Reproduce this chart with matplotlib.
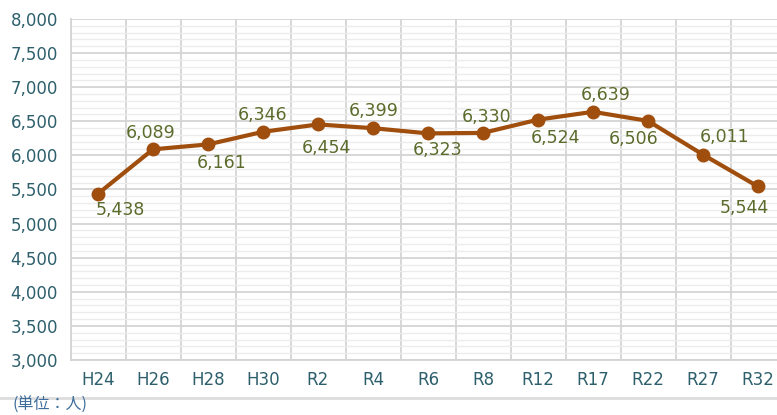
import numpy as np
import matplotlib.pyplot as plt
from matplotlib.lines import Line2D

plt.rcParams['font.family'] = ['DejaVu Sans', 'Noto Sans CJK JP']

# data
years = ['H24', 'H26', 'H28', 'H30', 'R2', 'R4', 'R6', 'R8', 'R12', 'R17', 'R22', 'R27', 'R32']
people = [5438, 6089, 6161, 6346, 6454, 6399, 6323, 6330, 6524, 6639, 6506, 6011, 5544]

# label offsets from each point, in pixels (dx, dy)
label_dx = [22, -2, 14, 0, 8, 1, 10, 4, 18, 13, -14, 22, -14]
label_dy = [-16, 16, -19, 17, -24, 17, -17, 16, -18, 17, -18, 18, -22]

W, H = 777, 415
fig = plt.figure(figsize=(W / 100, H / 100), dpi=100)
ax = fig.add_axes([70.5 / W, 55 / H, 715 / W, 341 / H])

x = np.arange(len(years))
ax.set_xlim(-0.5, len(years) - 0.5)
ax.set_ylim(3000, 8000)

# grid: minor every 100, major every 500, vertical at category boundaries
ax.set_yticks(np.arange(3000, 8001, 500))
ax.set_yticks(np.arange(3000, 8001, 100), minor=True)
ax.yaxis.grid(True, which='minor', color='#ececec', lw=1)
ax.yaxis.grid(True, which='major', color='#d4d4d4', lw=1.3)
for b in np.arange(-0.5, len(years), 1):
    ax.axvline(b, color='#d4d4d4', lw=1.3, zorder=0.5)
ax.set_axisbelow(True)

ax.plot(x, people, color='#a04e0e', lw=3, marker='o', ms=9, zorder=3)

for xi, v, dx, dy in zip(x, people, label_dx, label_dy):
    ax.annotate(f'{v:,}', (xi, v), xytext=(dx, dy), textcoords='offset pixels',
                ha='center', va='center', fontsize=12.5, color='#5b6b2b')

ax.set_xticks(x)
ax.set_xticklabels(years)
ax.set_yticklabels([f'{v:,}' for v in np.arange(3000, 8001, 500)])
ax.tick_params(axis='both', which='both', length=0, labelsize=12, colors='#2d5f6c')
ax.tick_params(axis='x', pad=8)
ax.tick_params(axis='y', pad=9)
for s in ['top', 'right']:
    ax.spines[s].set_visible(False)
for s in ['left', 'bottom']:
    ax.spines[s].set_color('#d4d4d4')
    ax.spines[s].set_linewidth(1.3)

# separator line and unit note
fig.add_artist(Line2D([0, 1], [1 - 398 / H, 1 - 398 / H], color='#dddddd', lw=2))
fig.text(13 / W, 1 - 405 / H, '(単位：人)', fontsize=11.5, color='#3f6e9c',
         family=['Noto Sans CJK JP', 'DejaVu Sans'], va='center', ha='left')

fig.savefig('out.png', dpi=100)
